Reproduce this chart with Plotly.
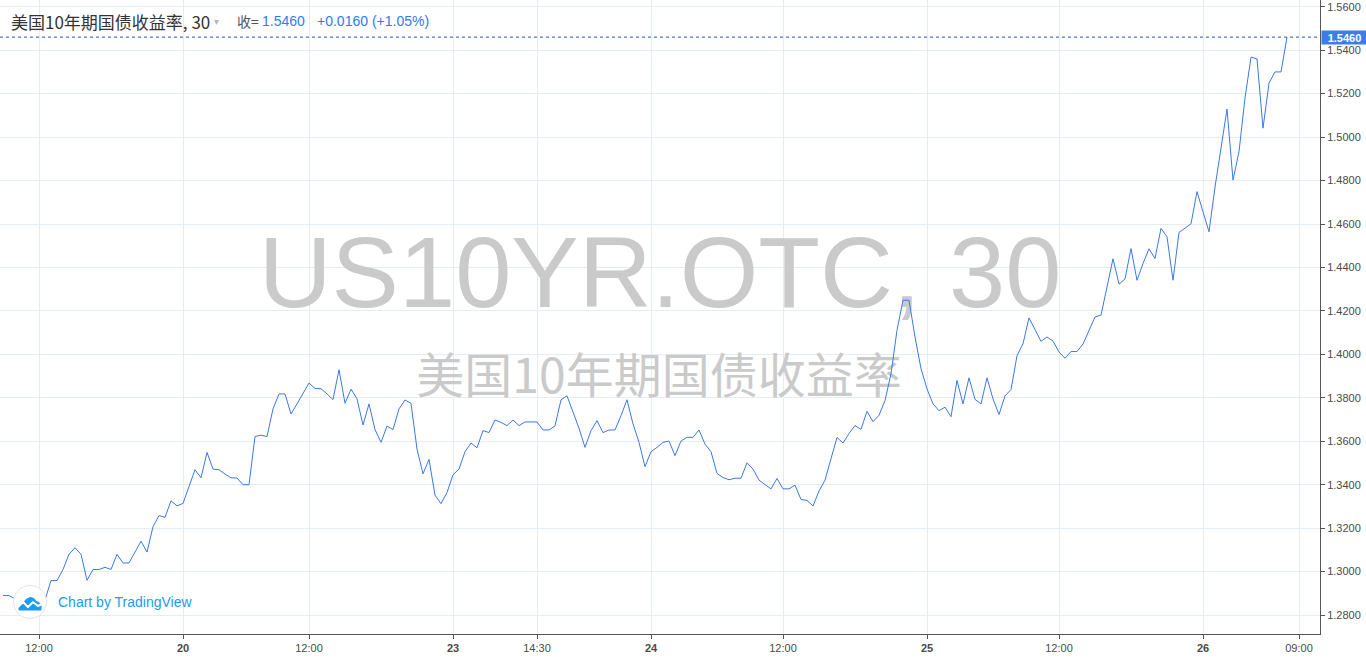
import plotly.graph_objects as go

# ---------------- data ----------------
yield_values = [
    1.289, 1.289, 1.2875, 1.285, 1.283, 1.281, 1.284, 1.287, 1.2959, 1.2959,
    1.301, 1.308, 1.311, 1.308, 1.296, 1.301, 1.301, 1.302, 1.301, 1.308,
    1.304, 1.304, 1.309, 1.314, 1.309, 1.3207, 1.3258, 1.325, 1.3326, 1.3303,
    1.3314, 1.3395, 1.3469, 1.3432, 1.3549, 1.3472, 1.3469, 1.3449, 1.3432, 1.3431,
    1.340, 1.340, 1.3622, 1.3628, 1.3622, 1.3749, 1.3818, 1.3818, 1.3726, 1.3772,
    1.3818, 1.3868, 1.3843, 1.3842, 1.3818, 1.3792, 1.3929, 1.3775, 1.384, 1.3795,
    1.3675, 1.3772, 1.3654, 1.3595, 1.367, 1.3654, 1.3749, 1.379, 1.3775, 1.3564,
    1.345, 1.3517, 1.3352, 1.3313, 1.3364, 1.3446, 1.3472, 1.3552, 1.3592, 1.357,
    1.3649, 1.364, 1.3698, 1.3687, 1.3672, 1.3698, 1.3672, 1.3689, 1.3689, 1.3689,
    1.3652, 1.3652, 1.3671, 1.3791, 1.3809, 1.3734, 1.366, 1.3572, 1.3649, 1.3695,
    1.364, 1.3652, 1.3652, 1.3718, 1.3791, 1.368, 1.3595, 1.3483, 1.3552, 1.3572,
    1.3595, 1.3601, 1.3534, 1.3601, 1.3618, 1.3618, 1.3652, 1.3587, 1.3552, 1.3452,
    1.3433, 1.3423, 1.343, 1.343, 1.3501, 1.3472, 1.3421, 1.3401, 1.3381, 1.3429,
    1.3381, 1.3381, 1.3398, 1.3332, 1.3328, 1.3302, 1.3371, 1.3421, 1.3518, 1.3618,
    1.3592, 1.3636, 1.3672, 1.3655, 1.3738, 1.369, 1.372, 1.3787, 1.3911, 1.4111,
    1.4249, 1.4249, 1.408, 1.3934, 1.3841, 1.3772, 1.3741, 1.3757, 1.3713, 1.388,
    1.3772, 1.3892, 1.3793, 1.3772, 1.3892, 1.3795, 1.3723, 1.3809, 1.3838, 1.3994,
    1.4049, 1.4168, 1.4114, 1.406, 1.408, 1.4061, 1.4011, 1.3982, 1.4013, 1.4013,
    1.4048, 1.411, 1.4172, 1.4181, 1.431, 1.444, 1.4323, 1.4347, 1.4487, 1.4341,
    1.4418, 1.4486, 1.4441, 1.458, 1.4541, 1.4341, 1.4561, 1.4583, 1.4601, 1.4749,
    1.4657, 1.4564, 1.477, 1.495, 1.5129, 1.4802, 1.4933, 1.518, 1.5368, 1.536,
    1.5041, 1.5249, 1.530, 1.530, 1.546,
]
bar_index = list(range(len(yield_values)))

time_tick_bars = [6, 30, 51, 75, 89, 108, 130, 154, 176, 200, 216]
time_tick_labels = ["12:00", "<b>20</b>", "12:00", "<b>23</b>", "14:30", "<b>24</b>",
                    "12:00", "<b>25</b>", "12:00", "<b>26</b>", "09:00"]
price_ticks = [1.28, 1.30, 1.32, 1.34, 1.36, 1.38, 1.40, 1.42, 1.44, 1.46, 1.48,
               1.50, 1.52, 1.54, 1.56]

symbol_title = "美国10年期国债收益率, 30"
last_price = 1.5460
change_text = "+0.0160 (+1.05%)"
watermark_main = "US10YR.OTC, 30"
watermark_sub = "美国10年期国债收益率"

# ---------------- layout geometry ----------------
W, H = 1366, 659
ML, MR, MT, MB = 0, 46, 0, 25
PW, PH = W - ML - MR, H - MT - MB
X_RANGE = [-0.5, 219.5]
Y_RANGE = [1.2713, 1.5631]

def fx(px):  # pixel -> paper x
    return px / PW

def fy(py):  # pixel -> paper y
    return 1 - py / PH

def dx(px):  # pixel -> data x
    return X_RANGE[0] + px / PW * (X_RANGE[1] - X_RANGE[0])

def dy(py):  # pixel -> data y
    return Y_RANGE[1] - py / PH * (Y_RANGE[1] - Y_RANGE[0])

LINE_BLUE = "#3b78e7"
GRID = "#e3edf3"
AXIS = "#555555"
TICKFONT = dict(family="Liberation Sans, Arial, sans-serif", size=11, color="#4a4a4a")

fig = go.Figure()

# watermark (drawn first, under the line)
fig.add_trace(go.Scatter(
    x=[dx(660)], y=[dy(282)], mode="text", text=[watermark_main],
    textposition="middle center",
    textfont=dict(family="Liberation Sans, Arial, sans-serif", size=101, color="#cacaca"),
    hoverinfo="skip", showlegend=False, cliponaxis=False,
))
fig.add_trace(go.Scatter(
    x=[dx(659)], y=[dy(381)], mode="text", text=[watermark_sub],
    textposition="middle center",
    textfont=dict(family="Noto Sans CJK SC, sans-serif", size=48, color="#cacaca"),
    hoverinfo="skip", showlegend=False, cliponaxis=False,
))

fig.add_trace(go.Scatter(
    x=bar_index, y=yield_values, mode="lines",
    line=dict(color=LINE_BLUE, width=1),
    hoverinfo="skip", showlegend=False,
))

fig.update_layout(
    width=W, height=H,
    margin=dict(l=ML, r=MR, t=MT, b=MB, autoexpand=False),
    paper_bgcolor="white", plot_bgcolor="white",
    showlegend=False,
    xaxis=dict(
        range=X_RANGE, showgrid=True, gridcolor=GRID, gridwidth=1,
        tickmode="array", tickvals=time_tick_bars, ticktext=time_tick_labels,
        ticks="outside", ticklen=4, tickcolor=AXIS, tickfont=TICKFONT,
        showline=True, linecolor=AXIS, linewidth=1, zeroline=False,
        fixedrange=True,
    ),
    yaxis=dict(
        range=Y_RANGE, side="right", showgrid=True, gridcolor=GRID, gridwidth=1,
        tickmode="array", tickvals=price_ticks,
        ticktext=[f"{v:.4f}" for v in price_ticks],
        ticks="outside", ticklen=4, tickcolor=AXIS, tickfont=TICKFONT,
        showline=True, linecolor=AXIS, linewidth=1, zeroline=False,
        fixedrange=True,
    ),
)

# last-price dotted line
fig.add_shape(type="line", xref="paper", yref="y", x0=0, x1=1,
              y0=last_price, y1=last_price,
              line=dict(color="#2f55a8", width=1, dash="dot"))

# last-price label on the axis
fig.add_annotation(
    xref="paper", yref="y", x=1, y=last_price, xanchor="left", yanchor="middle",
    text=f"<b>{last_price:.4f}</b>", showarrow=False, xshift=1,
    bgcolor="#3b7dea", borderpad=1, width=43, height=11,
    font=dict(family="Liberation Sans, Arial, sans-serif", size=11, color="white"),
)

# header
HEADER_Y = fy(21)
fig.add_annotation(xref="paper", yref="paper", x=fx(9), y=HEADER_Y,
                   xanchor="left", yanchor="middle", showarrow=False,
                   text=symbol_title,
                   font=dict(family="Noto Sans CJK SC, sans-serif", size=17, color="#333333"))
fig.add_annotation(xref="paper", yref="paper", x=fx(212), y=HEADER_Y,
                   xanchor="left", yanchor="middle", showarrow=False,
                   text="▾", font=dict(family="DejaVu Sans", size=10, color="#b8b8b8"))
fig.add_annotation(xref="paper", yref="paper", x=fx(235), y=HEADER_Y,
                   xanchor="left", yanchor="middle", showarrow=False,
                   text="收=", font=dict(family="Noto Sans CJK SC, sans-serif", size=14, color="#555555"))
fig.add_annotation(xref="paper", yref="paper", x=fx(260), y=HEADER_Y,
                   xanchor="left", yanchor="middle", showarrow=False,
                   text=f"{last_price:.4f}",
                   font=dict(family="Liberation Sans, Arial, sans-serif", size=14, color="#3179f5"))
fig.add_annotation(xref="paper", yref="paper", x=fx(315), y=HEADER_Y,
                   xanchor="left", yanchor="middle", showarrow=False,
                   text=change_text,
                   font=dict(family="Liberation Sans, Arial, sans-serif", size=14, color="#3179f5"))

# "Chart by TradingView" badge
cx, cy, r = 30, 602, 16.5
fig.add_shape(type="circle", xref="paper", yref="paper",
              x0=fx(cx - r), x1=fx(cx + r), y0=fy(cy + r), y1=fy(cy - r),
              fillcolor="white", line=dict(color="#e4e4e4", width=1), layer="above")
cloud = [(19, 610), (19, 606), (21, 603.5), (24, 602.5), (26, 599.5), (30, 597.5),
         (34, 598.5), (36, 601.5), (39, 602.5), (41, 605), (41, 610)]
path = "M " + " L ".join(f"{fx(px)},{fy(py)}" for px, py in cloud) + " Z"
fig.add_shape(type="path", xref="paper", yref="paper", path=path,
              fillcolor="#1a9cf0", line=dict(color="#1a9cf0", width=1), layer="above")
zig = [(18, 607), (23, 602), (28, 607), (33, 602), (38, 606), (42, 604)]
zpath = "M " + " L ".join(f"{fx(px)},{fy(py)}" for px, py in zig)
fig.add_shape(type="path", xref="paper", yref="paper", path=zpath,
              line=dict(color="white", width=2), layer="above")
fig.add_annotation(xref="paper", yref="paper", x=fx(56), y=fy(602),
                   xanchor="left", yanchor="middle", showarrow=False,
                   text="Chart by TradingView",
                   font=dict(family="Liberation Sans, Arial, sans-serif", size=14, color="#1a9cf0"))

fig.write_html(
    "out.html",
    config=dict(displayModeBar=False),
    post_script="document.body.style.margin='0';document.body.style.overflow='hidden';",
)
